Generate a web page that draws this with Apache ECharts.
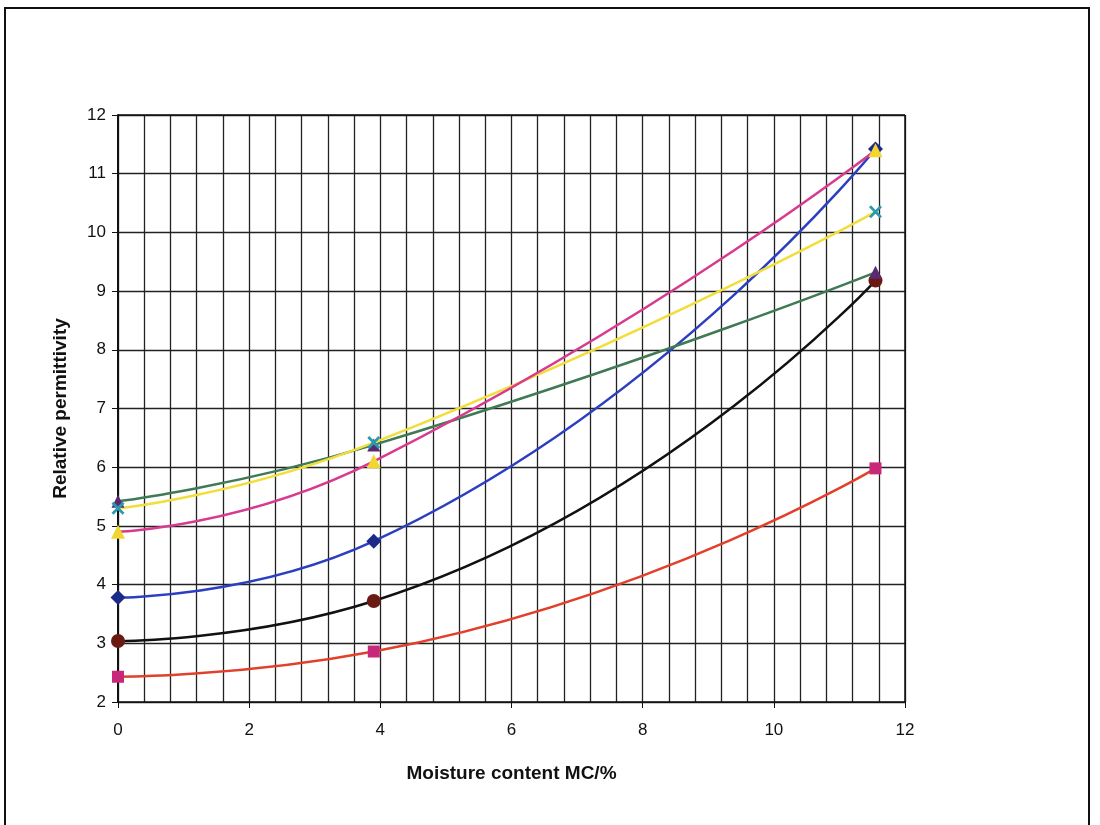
<!DOCTYPE html>
<html><head><meta charset="utf-8">
<script src="https://cdn.jsdelivr.net/npm/echarts@6/dist/echarts.min.js"></script>
<style>html,body{margin:0;padding:0;background:#fff}#c{width:1100px;height:825px}</style>
</head><body><div id="c"></div>
<script>
const mc = [0, 3.9, 11.55];
const xTicks = [0, 2, 4, 6, 8, 10, 12];
const yTicks = [2, 3, 4, 5, 6, 7, 8, 9, 10, 11, 12];
const blueDiamond = [3.78, 4.74, 11.42];
const blackCircle = [3.04, 3.72, 9.18];
const redSquare = [2.43, 2.86, 5.98];
const greenTriangle = [5.42, 6.38, 9.32];
const yellowCross = [5.3, 6.42, 10.35];
const pinkTriangle = [4.9, 6.1, 11.4];

function pts(v){ return mc.map((x,i)=>[x, v[i]]); }
const xPath = 'path://M0,1.5 L1.5,0 L5,3.5 L8.5,0 L10,1.5 L6.5,5 L10,8.5 L8.5,10 L5,6.5 L1.5,10 L0,8.5 L3.5,5 Z';

function s(name, data, lineColor, symbol, symColor, size, width){
  return {name, type:'line', data:pts(data), smooth:0.55, symbol, symbolSize:size,
    showAllSymbol:true, lineStyle:{color:lineColor, width:width||2.5},
    itemStyle:{color:symColor, borderColor:symColor, borderWidth:0}, z:3};
}

const chart = echarts.init(document.getElementById('c'), null, {renderer:'canvas'});
chart.setOption({
  animation:false,
  backgroundColor:'#fff',
  graphic:[{type:'rect', shape:{x:5, y:8, width:1084, height:830}, style:{fill:'none', stroke:'#111', lineWidth:2}, z:-1}],
  grid:{left:118, top:115, right:195, bottom:123, show:false},
  xAxis:{type:'value', min:0, max:12, interval:2,
    name:'Moisture content MC/%', nameLocation:'middle', nameGap:62,
    nameTextStyle:{fontFamily:'Liberation Sans', fontWeight:'bold', fontSize:19, color:'#111'},
    axisLine:{show:true, onZero:false, lineStyle:{color:'#111', width:1.5}},
    axisTick:{show:true, length:6, lineStyle:{color:'#111'}},
    axisLabel:{fontFamily:'Liberation Sans', fontSize:17, color:'#111', margin:20, formatter:v=>xTicks.includes(v)?String(v):''},
    splitLine:{show:true, lineStyle:{color:'#222', width:1.3}},
    minorTick:{show:false, splitNumber:5},
    minorSplitLine:{show:true, lineStyle:{color:'#222', width:1.3}}
  },
  yAxis:{type:'value', min:2, max:12, interval:1,
    name:'Relative permittivity', nameLocation:'middle', nameGap:48,
    nameTextStyle:{fontFamily:'Liberation Sans', fontWeight:'bold', fontSize:19, color:'#111'},
    axisLine:{show:true, onZero:false, lineStyle:{color:'#111', width:2}},
    axisTick:{show:true, length:6, lineStyle:{color:'#111'}},
    axisLabel:{fontFamily:'Liberation Sans', fontSize:17, color:'#111', margin:12, formatter:v=>yTicks.includes(v)?String(v):''},
    splitLine:{show:true, lineStyle:{color:'#222', width:1.3}}
  },
  series:[
    {type:'line', data:[], markLine:{silent:true, symbol:'none', label:{show:false},
      lineStyle:{color:'#111', width:1.5, type:'solid'},
      data:[[{coord:[0,12]},{coord:[12,12]}],[{coord:[12,2]},{coord:[12,12]}]]}},
    s('A', blueDiamond, '#2b3fc0', 'diamond', '#1c2a8a', 15),
    s('B', blackCircle, '#111111', 'circle', '#6a1a12', 14),
    s('C', redSquare, '#e2402c', 'rect', '#c8287a', 12),
    s('D', greenTriangle, '#3f7a55', 'triangle', '#5a2a70', 13),
    s('E', yellowCross, '#f2de3a', xPath, '#2a9ab0', 13),
    s('F', pinkTriangle, '#d83a8e', 'triangle', '#f2d630', 14)
  ]
});
</script></body></html>
